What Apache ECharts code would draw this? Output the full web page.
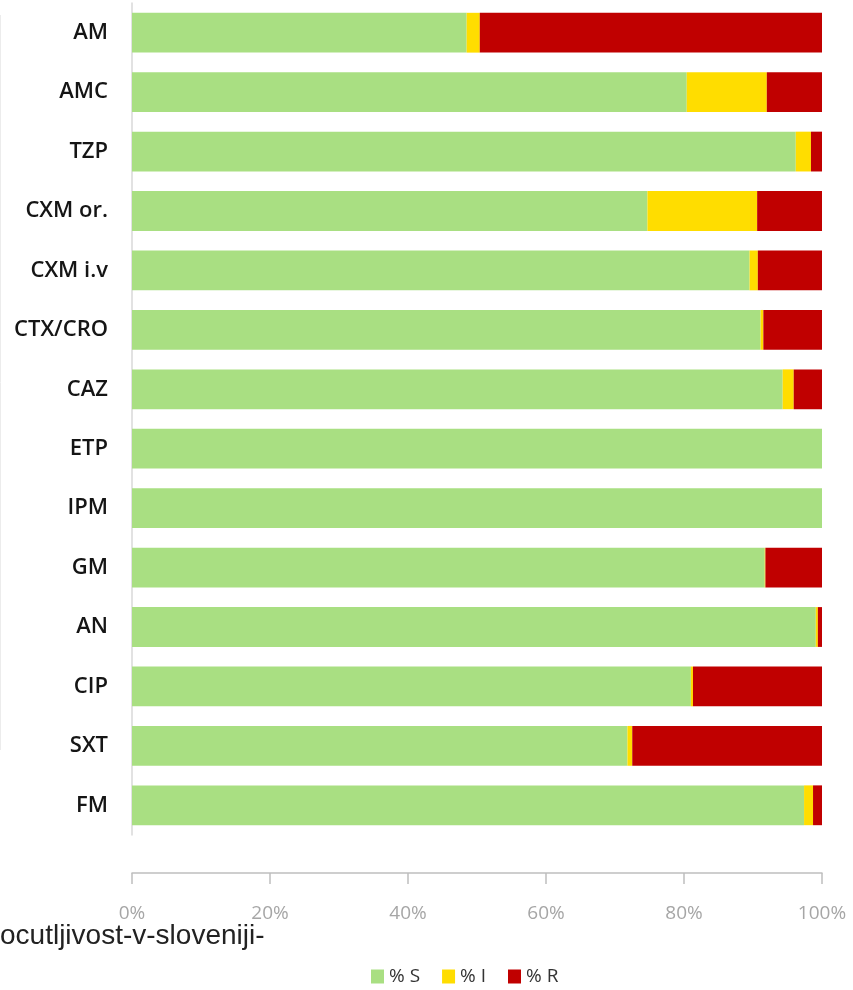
<!DOCTYPE html>
<html>
<head>
<meta charset="utf-8">
<script src="https://cdn.jsdelivr.net/npm/echarts@6/dist/echarts.min.js"></script>
<style>
  html, body { margin: 0; padding: 0; background: #fff; }
  #chart { width: 853px; height: 990px; }
</style>
</head>
<body>
<div id="chart"></div>
<script>
'use strict';
// categories (top to bottom)
var categories = ['AM', 'AMC', 'TZP', 'CXM or.', 'CXM i.v', 'CTX/CRO', 'CAZ', 'ETP', 'IPM', 'GM', 'AN', 'CIP', 'SXT', 'FM'];
// percent susceptible / intermediate / resistant
var pctS = [48.5, 80.4, 96.2, 74.7, 89.5, 91.1, 94.3, 100, 100, 91.7, 99.1, 81.0, 71.8, 97.4];
var pctI = [1.9, 11.6, 2.2, 15.9, 1.2, 0.4, 1.6, 0, 0, 0.1, 0.3, 0.3, 0.7, 1.3];
var pctR = [49.6, 8.0, 1.6, 9.4, 9.3, 8.5, 4.1, 0, 0, 8.2, 0.6, 18.7, 27.5, 1.3];
var seriesNames = ['% S', '% I', '% R'];
var xTicks = [0, 20, 40, 60, 80, 100];

var chart = echarts.init(document.getElementById('chart'));

var colors = ['#a9df82', '#ffdd00', '#c00000'];
var values = [pctS, pctI, pctR];

var option = {
    animation: false,
    color: colors,
    grid: { left: 132, right: 31, top: 3, height: 832 },
    legend: {
        data: seriesNames,
        left: 366,
        top: 962,
        itemWidth: 13,
        itemHeight: 14,
        itemGap: 22,
        icon: 'rect',
        textStyle: { fontFamily: 'Open Sans', fontSize: 19, color: '#333' }
    },
    xAxis: {
        type: 'value',
        min: xTicks[0],
        max: xTicks[xTicks.length - 1],
        interval: 20,
        offset: 38,
        axisLine: { show: true, lineStyle: { color: '#bfbfbf', width: 1.5 } },
        axisTick: { show: true, length: 11, lineStyle: { color: '#bfbfbf', width: 1.5 } },
        splitLine: { show: false },
        axisLabel: {
            margin: 31,
            fontFamily: 'Open Sans',
            fontSize: 19,
            color: '#a6a6a6',
            formatter: '{value}%'
        }
    },
    yAxis: {
        type: 'category',
        inverse: true,
        data: categories,
        axisLine: { show: true, lineStyle: { color: '#d9d9d9', width: 1.5 } },
        axisTick: { show: false },
        axisLabel: {
            margin: 24,
            fontFamily: 'Open Sans',
            fontWeight: 600,
            fontSize: 22,
            color: '#151515'
        }
    },
    series: seriesNames.map(function (name, i) {
        return {
            name: name,
            type: 'bar',
            stack: 'total',
            barCategoryGap: '33%',
            data: values[i]
        };
    }),
    graphic: [{
        type: 'text',
        left: 0,
        top: 922,
        style: {
            text: 'ocutljivost-v-sloveniji-',
            fontFamily: 'Liberation Sans',
            fontSize: 28,
            fill: '#222'
        }
    }, {
        // faint edge line at the very left of the picture
        type: 'line',
        shape: { x1: 0.5, y1: 15, x2: 0.5, y2: 750 },
        style: { stroke: '#ececec', lineWidth: 1 }
    }]
};
chart.setOption(option);
</script>
</body>
</html>
